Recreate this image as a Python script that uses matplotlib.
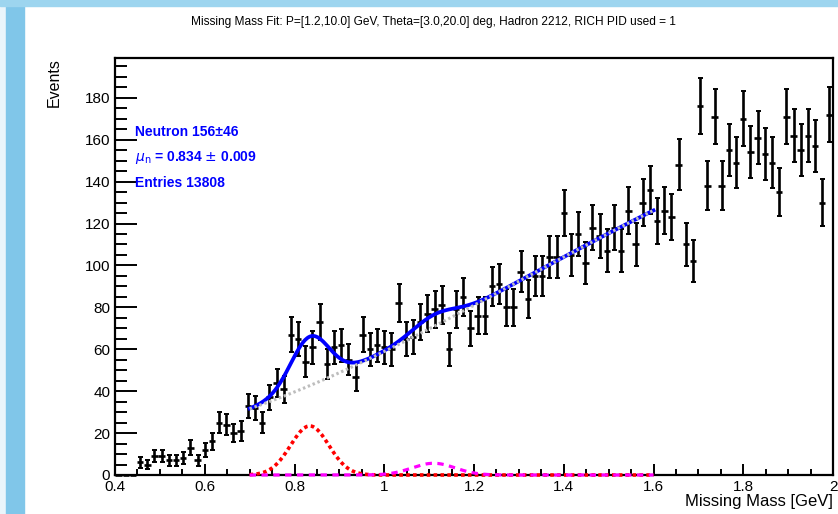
import numpy as np
import matplotlib.pyplot as plt
from matplotlib.patches import Rectangle
from matplotlib.ticker import MultipleLocator

# histogram: 100 bins from 0.4 to 2.0 GeV
mm_lo, mm_hi, n_bins = 0.4, 2.0, 100
counts = [
    0, 0, 0, 6, 5, 9, 9, 7, 7, 8,
    13, 7, 12, 16, 25, 24, 20, 21, 33, 32,
    25, 37, 44, 41, 67, 65, 54, 61, 73, 53,
    61, 62, 55, 47, 67, 60, 62, 61, 60, 82,
    65, 66, 73, 77, 79, 81, 60, 79, 85, 70,
    76, 76, 90, 91, 80, 80, 97, 84, 95, 95,
    104, 104, 125, 105, 115, 101, 118, 114, 107, 118,
    107, 126, 110, 130, 136, 121, 126, 123, 148, 110,
    102, 176, 138, 171, 138, 155, 149, 170, 154, 161,
    153, 149, 135, 171, 162, 155, 162, 157, 130, 172,
]

# fit result (gaussian neutron + gaussian second peak + cubic background)
fit_lo, fit_hi = 0.7, 1.6
neutron_amp, neutron_mean, neutron_sigma = 23.4, 0.834, 0.0426
second_amp, second_mean, second_sigma = 5.6, 1.11, 0.048
bg_coeffs = [31.6, 73.9, 68.5, -37.5]  # polynomial in (x - fit_lo)

title = ("Missing Mass Fit: P=[1.2,10.0] GeV, Theta=[3.0,20.0] deg, "
         "Hadron 2212, RICH PID used = 1")
stat_lines = ["Neutron 156\u00b146", r"$\mu_{\rm n}$ = 0.834 $\pm$ 0.009",
              "Entries 13808"]


def gaus(x, amp, mean, sigma):
    return amp * np.exp(-0.5 * ((x - mean) / sigma) ** 2)


def background(x):
    d = x - fit_lo
    return sum(c * d ** i for i, c in enumerate(bg_coeffs))


plt.rcParams["font.family"] = ["Liberation Sans", "DejaVu Sans"]

fig = plt.figure(figsize=(8.38, 5.14), dpi=100)
fig.patches.append(Rectangle((0, 0), 6 / 838, 1, transform=fig.transFigure,
                             color="#eaf5fb", zorder=0))
fig.patches.append(Rectangle((6 / 838, 0), 18 / 838, 1, transform=fig.transFigure,
                             color="#80c6e9", zorder=0))
fig.patches.append(Rectangle((0, 1 - 6 / 514), 1, 6 / 514, transform=fig.transFigure,
                             color="#9dd5ef", zorder=0))

ax = fig.add_axes([115 / 838, 39 / 514, 718 / 838, 417 / 514])

width = (mm_hi - mm_lo) / n_bins
centers = mm_lo + width * (np.arange(n_bins) + 0.5)
y = np.array(counts, dtype=float)
err = np.sqrt(y)

ax.errorbar(centers, y, yerr=err, fmt="none", ecolor="black", elinewidth=1.9,
            capsize=1.8, capthick=1.4, zorder=2)
ax.errorbar(centers, y, xerr=width * 0.45, fmt="none", ecolor="black",
            elinewidth=1.9, capsize=0, zorder=2.5, clip_on=False)

xf = np.linspace(fit_lo, fit_hi, 400)
sig1 = gaus(xf, neutron_amp, neutron_mean, neutron_sigma)
sig2 = gaus(xf, second_amp, second_mean, second_sigma)
bg = background(xf)
ax.plot(xf, bg + sig1 + sig2, color="#0000ff", lw=2.7, zorder=3)
ax.plot(xf, bg, color="#bdbdbd", lw=2.2, ls=(0, (0.8, 0.9)), zorder=4)
ax.plot(xf, sig1, color="#ff0000", lw=2.6, ls=(0, (1, 0.9)), zorder=4,
        clip_on=False)
ax.plot(xf, sig2, color="#ff00ff", lw=2.3, ls=(0, (2, 1.7)), zorder=5,
        clip_on=False)

ax.set_xlim(mm_lo, mm_hi)
ax.set_ylim(0, 199)
ax.xaxis.set_major_locator(MultipleLocator(0.2))
ax.xaxis.set_minor_locator(MultipleLocator(0.05))
ax.yaxis.set_major_locator(MultipleLocator(20))
ax.yaxis.set_minor_locator(MultipleLocator(5))
ax.set_xticks(np.arange(0.4, 2.01, 0.2))
ax.set_xticklabels(["0.4", "0.6", "0.8", "1", "1.2", "1.4", "1.6", "1.8", "2"])
ax.tick_params(axis="both", which="both", direction="in", width=1.4,
               labelsize=11, top=False, right=False)
ax.tick_params(axis="y", which="major", length=16, pad=3.5)
ax.tick_params(axis="y", which="minor", length=8.5)
ax.tick_params(axis="x", which="major", length=8, pad=3.5)
ax.tick_params(axis="x", which="minor", length=4.3)
for s in ax.spines.values():
    s.set_linewidth(1.6)

ax.text(-60.5 / 718, 1.0, "Events", transform=ax.transAxes, rotation=90,
        ha="center", va="top", fontsize=11.5)
ax.text(1.0, -26.5 / 417, "Missing Mass [GeV]", transform=ax.transAxes,
        ha="right", va="center", fontsize=12)

for line, yv in zip(stat_lines, [163.9, 151.6, 139.2]):
    ax.text(0.4446, yv, line, color="#0000ff", fontsize=10,
            fontweight="bold", ha="left", va="center", zorder=6)

fig.text(433 / 838, 1 - 22.5 / 514, title, ha="center", va="center",
         fontsize=8.6, family=["Liberation Sans Narrow", "Liberation Sans"])

fig.savefig("out.png", dpi=100)
